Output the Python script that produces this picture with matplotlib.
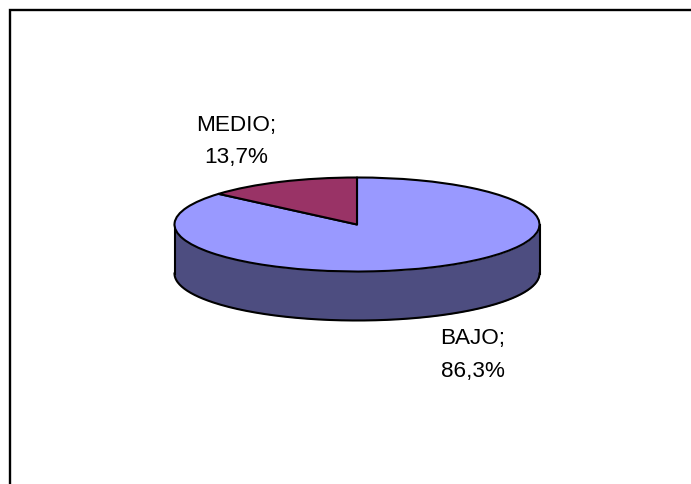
import numpy as np
import matplotlib
matplotlib.use("Agg")
import matplotlib.pyplot as plt
from matplotlib.lines import Line2D

labels = ["BAJO", "MEDIO"]
values = [86.3, 13.7]
top_colors = ["#9999FF", "#993366"]
side_color = "#4D4D80"

W, H = 691, 485
plt.rcParams['font.family'] = ['Liberation Sans', 'DejaVu Sans']
fig = plt.figure(figsize=(W / 100, H / 100), dpi=100, facecolor="white")

# frame: top and left edges only
fig.add_artist(Line2D([9.5 / W, 9.5 / W, 1], [0, 1 - 11 / H, 1 - 11 / H], color="black", lw=1.7,
                      solid_joinstyle="miter"))

# axes box equals the ellipse's bounding box
L, R, T, B = 174.5, 539.5, 178.5, 272.5
ax = fig.add_axes([L / W, 1 - B / H, (R - L) / W, (B - T) / H])
wedges, _ = ax.pie(values, colors=top_colors, startangle=90, counterclock=False, radius=1,
                   wedgeprops=dict(edgecolor="black", linewidth=1.5, joinstyle="round"))
ax.set_aspect("auto")
ax.set_xlim(-1, 1)
ax.set_ylim(-1, 1)
ax.axis("off")
for w in wedges:
    w.set_clip_on(False)
    w.set_zorder(3)

# visible side wall of the disc
depth = 49 / ((B - T) / 2)
t = np.linspace(np.pi, 2 * np.pi, 200)
x = np.cos(t)
y = np.sin(t)
ax.fill_between(x, y - depth, y, color=side_color, linewidth=0, clip_on=False, zorder=1)
ax.plot(x, y - depth, color="black", lw=1.5, clip_on=False, zorder=2)
ax.plot([-1, -1], [0, -depth], color="black", lw=1.5, clip_on=False, zorder=2)
ax.plot([1, 1], [0, -depth], color="black", lw=1.5, clip_on=False, zorder=2)

# data labels
label_pos = {"BAJO": (473, 355), "MEDIO": (236, 141.5)}
for name, v in zip(labels, values):
    px, py = label_pos[name]
    txt = f"{name};\n{v:.1f}%".replace(".", ",")
    fig.text(px / W, 1 - py / H, txt, ha="center", va="center", fontsize=16.2, color="black",
             linespacing=1.72)

fig.savefig("out.png", dpi=100, facecolor="white")
